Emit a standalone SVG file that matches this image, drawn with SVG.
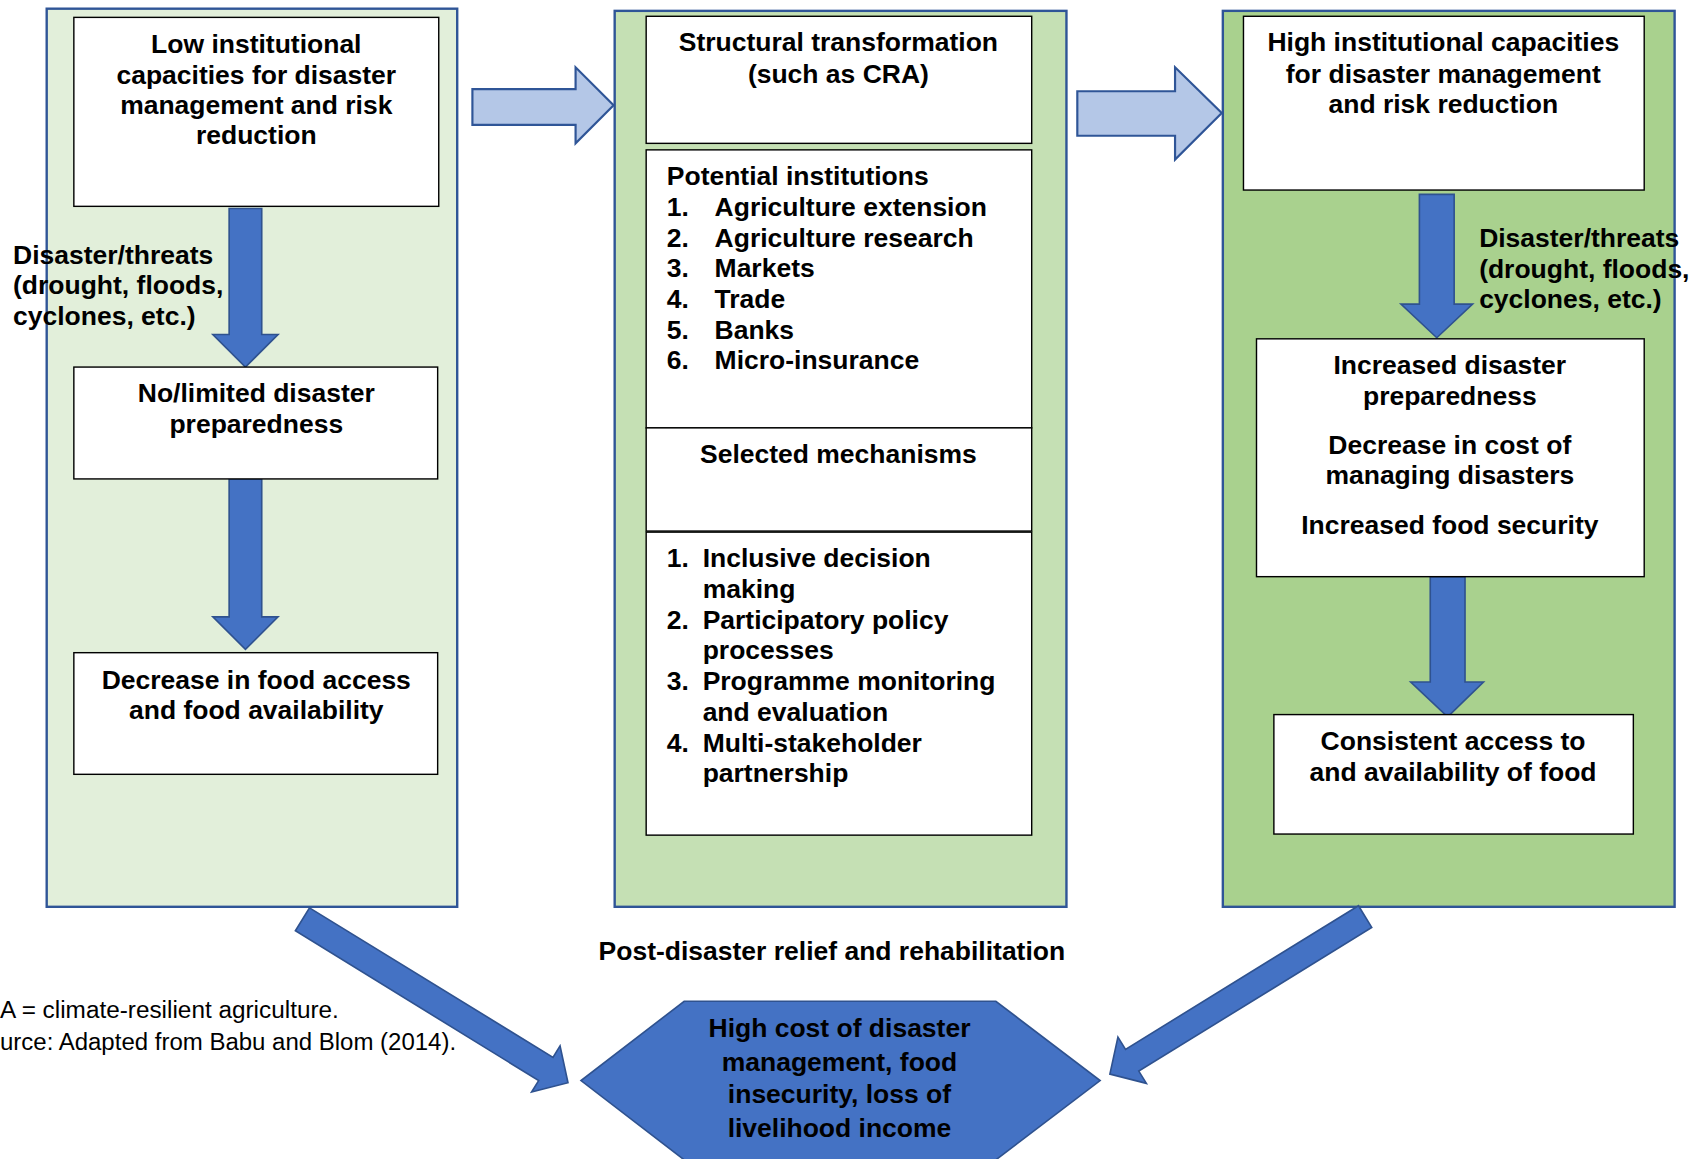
<svg xmlns="http://www.w3.org/2000/svg" width="1703" height="1159" viewBox="0 0 1703 1159">
<style>
.t{font-family:"Liberation Sans",Arial,sans-serif;font-weight:bold;font-size:24.4px;fill:#000}
.c{text-anchor:middle}
.fn{font-family:"Liberation Sans",Arial,sans-serif;font-size:22.5px;fill:#000}
.box{fill:#fff;stroke:#000;stroke-width:1.3}
.panel{stroke:#2F5597;stroke-width:2.2}
.dark{fill:#4472C4;stroke:#2F528F;stroke-width:1.5;stroke-linejoin:miter}
.light{fill:#B4C7E7;stroke:#2F5597;stroke-width:2}
</style>
<rect width="1703" height="1159" fill="#fff"/>
<g transform="scale(1.086)">
<g id="panel-left">
<rect class="panel" x="43" y="8" width="378" height="827" fill="#E2EFDA"/>
</g>
<g id="panel-middle">
<rect class="panel" x="566" y="10" width="416" height="825" fill="#C5E0B4"/>
</g>
<g id="panel-right">
<rect class="panel" x="1126" y="10" width="416" height="825" fill="#A9D18E"/>
</g>

<g id="connectors">
<polygon class="dark" points="211,192 241,192 241,308 256,308 226,338 196,308 211,308"/>
<polygon class="dark" points="211,441 241,441 241,568 256,568 226,598 196,568 211,568"/>
<polygon class="dark" points="1307,179 1339,179 1339,280 1356,280 1323,311 1290,280 1307,280"/>
<polygon class="dark" points="1317,531 1349,531 1349,628 1366,628 1333,660 1299,628 1317,628"/>
<polygon class="light" points="435,82 530,82 530,62 565,97 530,132 530,115 435,115"/>
<polygon class="light" points="992,84 1082,84 1082,62 1125,104 1082,147 1082,125 992,125"/>
<polygon class="dark" points="285,836 509.2,973.6 515.7,963 523,997 489.5,1005.6 496,995 272,857"/>
<polygon class="dark" points="1250.9,834 1036.4,966.3 1029.4,955 1022,989 1055.6,997.6 1048.6,986.3 1263.1,854"/>
</g>

<g id="node-low-capacity">
<rect class="box" x="68" y="16" width="336" height="174"/>
<text class="t c" x="236" y="49">Low institutional</text>
<text class="t c" x="236" y="77">capacities for disaster</text>
<text class="t c" x="236" y="105">management and risk</text>
<text class="t c" x="236" y="133">reduction</text>
</g>
<g id="label-threats-left">
<text class="t" x="12" y="243">Disaster/threats</text>
<text class="t" x="12" y="271">(drought, floods,</text>
<text class="t" x="12" y="299">cyclones, etc.)</text>
</g>
<g id="node-no-preparedness">
<rect class="box" x="68" y="338" width="335" height="103"/>
<text class="t c" x="236" y="370">No/limited disaster</text>
<text class="t c" x="236" y="399">preparedness</text>
</g>
<g id="node-decrease-food">
<rect class="box" x="68" y="601" width="335" height="112"/>
<text class="t c" x="236" y="634">Decrease in food access</text>
<text class="t c" x="236" y="662">and food availability</text>
</g>

<g id="node-structural">
<rect class="box" x="595" y="15" width="355" height="117"/>
<text class="t c" x="772" y="47">Structural transformation</text>
<text class="t c" x="772" y="76">(such as CRA)</text>
</g>
<g id="node-institutions">
<rect class="box" x="595" y="138" width="355" height="256"/>
<text class="t" x="614" y="170">Potential institutions</text>
<text class="t" x="614" y="199">1.</text><text class="t" x="658" y="199">Agriculture extension</text>
<text class="t" x="614" y="227">2.</text><text class="t" x="658" y="227">Agriculture research</text>
<text class="t" x="614" y="255">3.</text><text class="t" x="658" y="255">Markets</text>
<text class="t" x="614" y="284">4.</text><text class="t" x="658" y="284">Trade</text>
<text class="t" x="614" y="312">5.</text><text class="t" x="658" y="312">Banks</text>
<text class="t" x="614" y="340">6.</text><text class="t" x="658" y="340">Micro-insurance</text>
</g>
<g id="node-mechanisms">
<rect class="box" x="595" y="394" width="355" height="95"/>
<text class="t c" x="772" y="426">Selected mechanisms</text>
</g>
<g id="node-mechanism-list">
<rect class="box" x="595" y="490" width="355" height="279"/>
<text class="t" x="614" y="522">1.</text><text class="t" x="647" y="522">Inclusive decision</text>
<text class="t" x="647" y="551">making</text>
<text class="t" x="614" y="579">2.</text><text class="t" x="647" y="579">Participatory policy</text>
<text class="t" x="647" y="607">processes</text>
<text class="t" x="614" y="635">3.</text><text class="t" x="647" y="635">Programme monitoring</text>
<text class="t" x="647" y="664">and evaluation</text>
<text class="t" x="614" y="692">4.</text><text class="t" x="647" y="692">Multi-stakeholder</text>
<text class="t" x="647" y="720">partnership</text>
</g>

<g id="node-high-capacity">
<rect class="box" x="1145" y="15" width="369" height="160"/>
<text class="t c" x="1329" y="47">High institutional capacities</text>
<text class="t c" x="1329" y="76">for disaster management</text>
<text class="t c" x="1329" y="104">and risk reduction</text>
</g>
<g id="label-threats-right">
<text class="t" x="1362" y="227">Disaster/threats</text>
<text class="t" x="1362" y="256">(drought, floods,</text>
<text class="t" x="1362" y="284">cyclones, etc.)</text>
</g>
<g id="node-increased-preparedness">
<rect class="box" x="1157" y="312" width="357" height="219"/>
<text class="t c" x="1335" y="344">Increased disaster</text>
<text class="t c" x="1335" y="373">preparedness</text>
<text class="t c" x="1335" y="418">Decrease in cost of</text>
<text class="t c" x="1335" y="446">managing disasters</text>
<text class="t c" x="1335" y="492">Increased food security</text>
</g>
<g id="node-consistent-access">
<rect class="box" x="1173" y="658" width="331" height="110"/>
<text class="t c" x="1338" y="691">Consistent access to</text>
<text class="t c" x="1338" y="719">and availability of food</text>
</g>

<g id="label-post-disaster">
<text class="t c" x="766" y="884">Post-disaster relief and rehabilitation</text>
</g>
<g id="node-high-cost">
<polygon class="dark" points="630,922 917,922 1013,995 917,1068 630,1068 535,995"/>
<text class="t c" x="773" y="955">High cost of disaster</text>
<text class="t c" x="773" y="986">management, food</text>
<text class="t c" x="773" y="1016">insecurity, loss of</text>
<text class="t c" x="773" y="1047">livelihood income</text>
</g>
<g id="footnotes">
<text class="fn" x="0" y="937" textLength="312" lengthAdjust="spacingAndGlyphs">A = climate-resilient agriculture.</text>
<text class="fn" x="0" y="967" textLength="420" lengthAdjust="spacingAndGlyphs">urce: Adapted from Babu and Blom (2014).</text>
</g>
</g>
</svg>
